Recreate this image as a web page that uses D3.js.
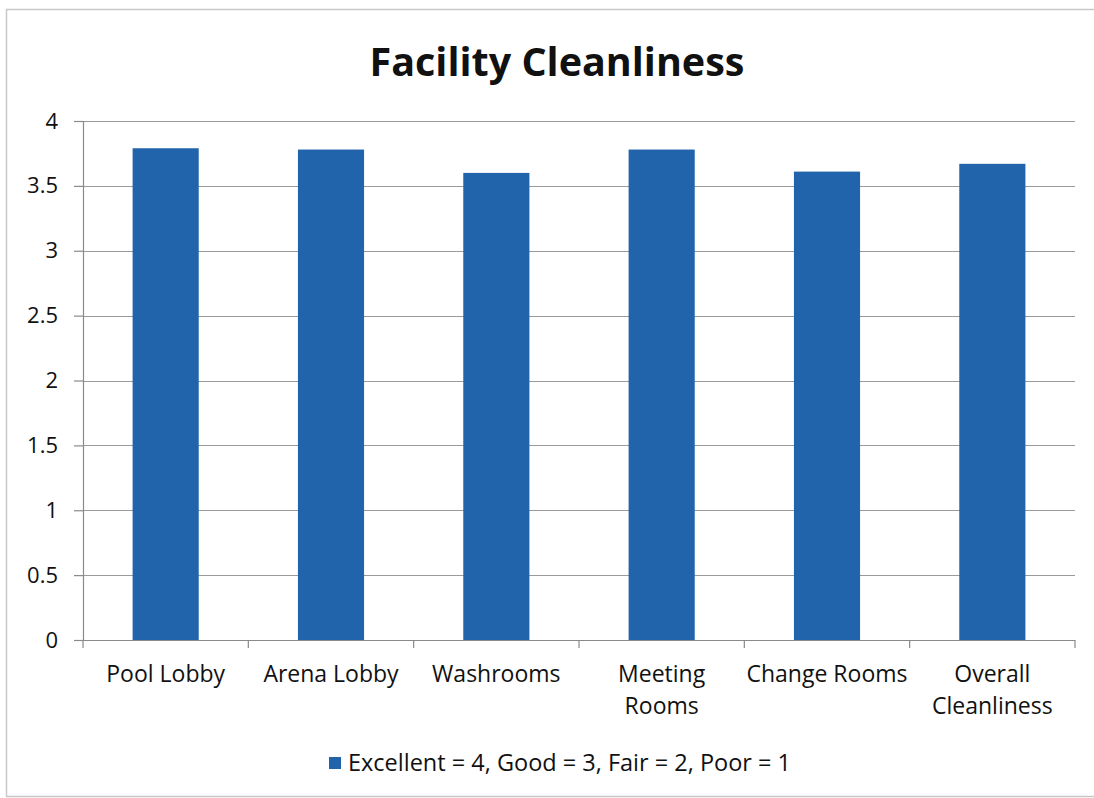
<!DOCTYPE html>
<html>
<head>
<meta charset="utf-8">
<script src="https://cdn.jsdelivr.net/npm/d3@7"></script>
<style>
  html, body { margin: 0; padding: 0; background: #fff; }
  svg { display: block; }
  text { font-family: "Open Sans", Lato, sans-serif; fill: #111; }
</style>
</head>
<body>
<svg id="chart" width="1094" height="798"></svg>
<script>
const categories = [["Pool Lobby"], ["Arena Lobby"], ["Washrooms"], ["Meeting", "Rooms"], ["Change Rooms"], ["Overall", "Cleanliness"]];
const values = [3.79, 3.78, 3.60, 3.78, 3.61, 3.67];
const yTicks = [0, 0.5, 1, 1.5, 2, 2.5, 3, 3.5, 4];
const title = "Facility Cleanliness";
const legendLabel = "Excellent = 4, Good = 3, Fair = 2, Poor = 1";

(function () {
const svg = d3.select("#chart");
const pLeft = 83, pRight = 1075, pTop = 121, pBottom = 640;
const barColor = "#2264ab";
const font = "'Open Sans', Lato, sans-serif";

// outer border
svg.append("rect").attr("x", 6.5).attr("y", 9.5).attr("width", 1100).attr("height", 787)
  .attr("fill", "none").attr("stroke", "#c8c8c8").attr("stroke-width", 1.5);

const keys = categories.map((c, i) => i);
const x = d3.scaleBand().domain(keys).range([pLeft, pRight]).paddingInner(0.6).paddingOuter(0.3);
const y = d3.scaleLinear().domain([0, 4]).range([pBottom, pTop]);

// gridlines
svg.append("g").selectAll("line").data(yTicks.filter(t => t > 0)).join("line")
  .attr("x1", pLeft).attr("x2", pRight)
  .attr("y1", d => Math.round(y(d)) + 0.5).attr("y2", d => Math.round(y(d)) + 0.5)
  .attr("stroke", "#9a9a9a").attr("stroke-width", 1.2);

// y axis
const yAxis = d3.axisLeft(y).tickValues(yTicks).tickSize(9).tickPadding(16).tickFormat(d3.format("~g"));
const gy = svg.append("g").attr("transform", `translate(${pLeft},0)`).call(yAxis);
gy.select(".domain").attr("stroke", "#8a8a8a").attr("stroke-width", 1.2);
gy.selectAll(".tick line").attr("stroke", "#8a8a8a").attr("stroke-width", 1.2);
gy.selectAll(".tick text").style("font-size", "22px").style("font-family", font).attr("fill", "#111");

// bars
svg.append("g").selectAll("rect").data(values).join("rect")
  .attr("x", (d, i) => x(i)).attr("width", x.bandwidth())
  .attr("y", d => y(d)).attr("height", d => y(0) - y(d))
  .attr("fill", barColor);

// x axis line and boundary ticks
const step = x.step();
svg.append("line").attr("x1", pLeft).attr("x2", pRight)
  .attr("y1", pBottom + 0.5).attr("y2", pBottom + 0.5)
  .attr("stroke", "#8a8a8a").attr("stroke-width", 1.2);
svg.append("g").selectAll("line").data(d3.range(categories.length + 1)).join("line")
  .attr("x1", i => pLeft + i * step).attr("x2", i => pLeft + i * step)
  .attr("y1", pBottom).attr("y2", pBottom + 8)
  .attr("stroke", "#8a8a8a").attr("stroke-width", 1.2);

// category labels
const lab = svg.append("g").selectAll("text").data(categories).join("text")
  .attr("text-anchor", "middle")
  .style("font-size", "23px");
lab.each(function(lines, i) {
  const t = d3.select(this);
  lines.forEach((ln, j) => {
    t.append("tspan").attr("x", x(i) + x.bandwidth() / 2).attr("y", 682 + j * 32).text(ln);
  });
});

// title
svg.append("text").attr("x", 557).attr("y", 76).attr("text-anchor", "middle")
  .style("font-size", "39.5px").style("font-weight", "bold").text(title);

// legend
svg.append("rect").attr("x", 329).attr("y", 757).attr("width", 12).attr("height", 12).attr("fill", barColor);
svg.append("text").attr("x", 348).attr("y", 771).style("font-size", "23.5px").text(legendLabel);
})();
</script>
</body>
</html>
